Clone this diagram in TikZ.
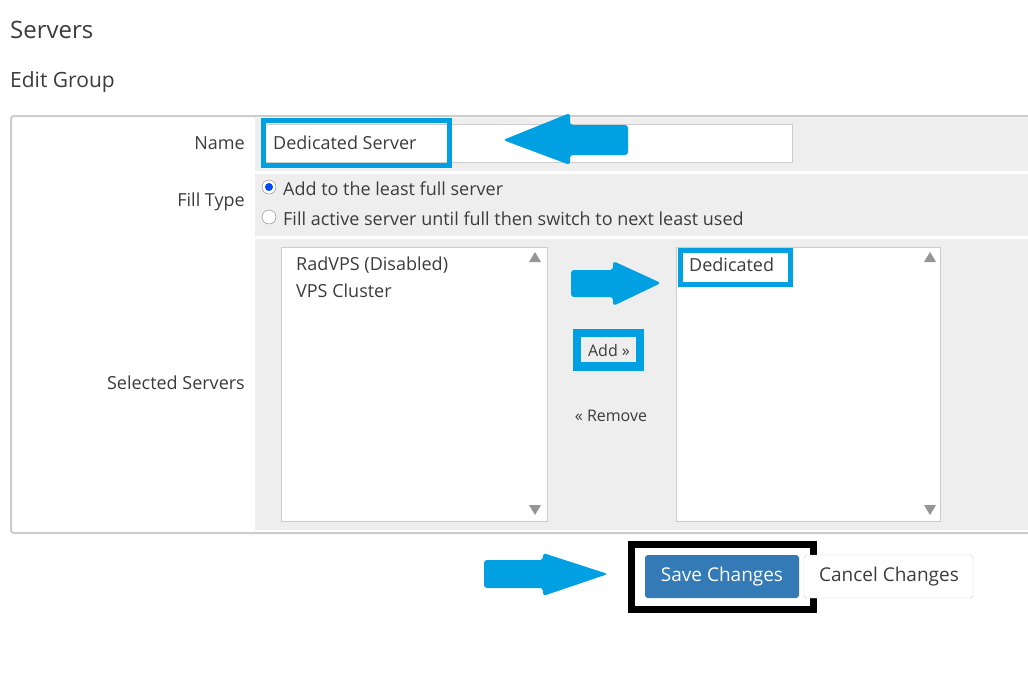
\documentclass[tikz,border=0pt]{standalone}
\usepackage{fontspec}
\setmainfont{Open Sans}
\definecolor{hlblue}{RGB}{0,160,227}
\definecolor{panelgray}{RGB}{238,238,238}
\definecolor{boxline}{RGB}{204,204,204}
\definecolor{txt}{RGB}{60,60,60}
\definecolor{btnblue}{RGB}{51,122,183}
\definecolor{trigray}{RGB}{150,150,150}
\tikzset{
  lbl/.style={anchor=east,text=txt,font=\fontsize{18}{21}\selectfont,inner sep=0},
  txtl/.style={anchor=west,text=txt,font=\fontsize{18}{21}\selectfont,inner sep=0},
  hl/.style={draw=hlblue,line width=5pt},
  listbox/.style={draw=boxline,fill=white,line width=1pt},
  bigarrow/.style={fill=hlblue,rounded corners=3pt},
  tri/.style={fill=trigray}
}
\begin{document}
\begin{tikzpicture}[x=1pt,y=-1pt]
\useasboundingbox[fill=white] (0,0) rectangle (1028,683);

% headings
\node[txtl,font=\fontsize{24}{28}\selectfont] (title) at (10,30) {Servers};
\node[txtl,font=\fontsize{21}{25}\selectfont] (sub) at (10,82) {Edit Group};

% panel
\fill[panelgray] (255,118) rectangle (1028,530);
\draw[white,line width=3pt] (255,172) -- (1028,172);
\draw[white,line width=3pt] (255,237) -- (1028,237);
\draw[boxline,line width=2pt,rounded corners=3pt] (1040,116) -- (11,116) -- (11,533) -- (1040,533);

% name row
\node[lbl] (namelbl) at (245,143) {Name};
\draw[listbox] (262,124) rectangle (792,162);
\draw[hl] (263,120) rectangle (449,165);
\node[txtl] (nametxt) at (273,143) {Dedicated Server};
\fill[bigarrow] (628,125) -- (628,155) -- (570,155) -- (570,165) -- (503,140) -- (570,113) -- (570,125) -- cycle;

% fill type
\node[lbl] (filllbl) at (245,202) {Fill Type};
\draw[gray,fill=white] (269,187) circle (7);
\fill[blue!70!cyan] (269,187) circle (4);
\node[txtl] (opt1) at (283,189) {Add to the least full server};
\draw[gray,fill=white] (269,217) circle (7);
\node[txtl] (opt2) at (283,219) {Fill active server until full then switch to next least used};

% selected servers
\node[lbl] (sellbl) at (245,383) {Selected Servers};
\draw[listbox] (281,247) rectangle (547,521);
\node[txtl] (s1) at (296,265) {RadVPS (Disabled)};
\node[txtl] (s2) at (296,291) {VPS Cluster};
\fill[tri] (529,262) -- (541,262) -- (535,252) -- cycle;
\fill[tri] (529,505) -- (541,505) -- (535,515) -- cycle;

\draw[listbox] (676,247) rectangle (940,521);
\draw[hl] (680,250) rectangle (790,284);
\node[txtl] (d1) at (689,265) {Dedicated};
\fill[tri] (924,262) -- (936,262) -- (930,252) -- cycle;
\fill[tri] (924,505) -- (936,505) -- (930,515) -- cycle;

\fill[bigarrow] (571,270) -- (613,270) -- (613,261) -- (661,283) -- (613,306) -- (613,297) -- (571,297) -- cycle;

\fill[hlblue] (573,329) rectangle (644,371);
\fill[panelgray] (581,337) rectangle (636,362);
\node[text=txt,font=\fontsize{16}{18}\selectfont] (add) at (609,350) {Add »};
\node[text=txt,font=\fontsize{16}{18}\selectfont] (rem) at (611,416) {« Remove};

% buttons
\fill[bigarrow] (484,560) -- (543,560) -- (543,553) -- (608,574) -- (543,596) -- (543,588) -- (484,588) -- cycle;
\draw[black,line width=7pt] (631,544) rectangle (813,609);
\draw[boxline,fill=white,rounded corners=3pt] (804,555) rectangle (973,598);
\fill[btnblue,rounded corners=3pt] (645,555) rectangle (799,598);
\node[text=white,font=\fontsize{19}{22}\selectfont] (save) at (722,577) {Save Changes};
\node[text=txt,font=\fontsize{19}{22}\selectfont] (cancel) at (889,577) {Cancel Changes};
\end{tikzpicture}
\end{document}
